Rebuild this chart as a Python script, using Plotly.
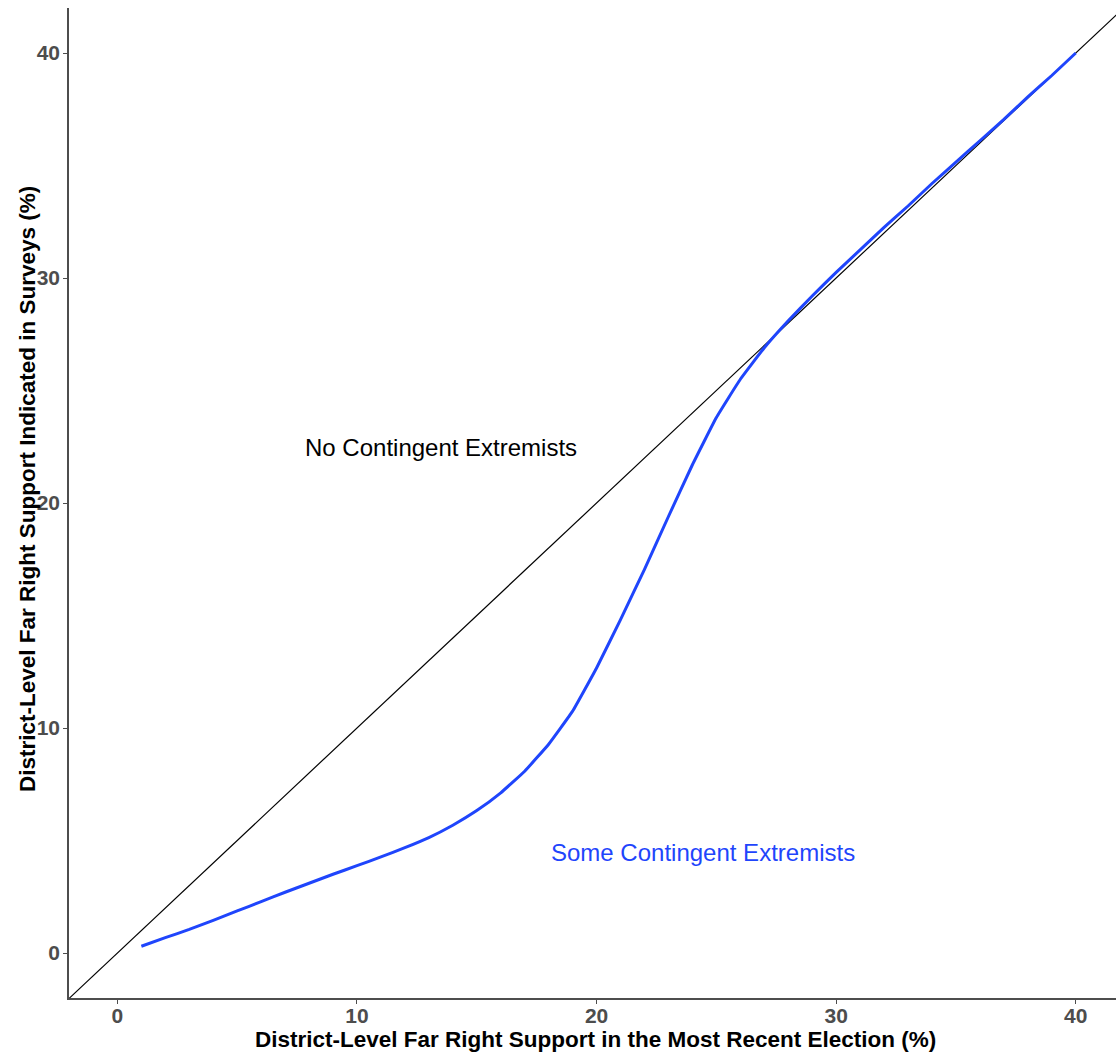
import plotly.graph_objects as go

# Estimated survey-indicated support across district-level election results
election_support = list(range(1, 41))
survey_support = [
    0.30, 0.68, 1.05, 1.45, 1.87, 2.28, 2.70, 3.10, 3.50, 3.88,
    4.27, 4.68, 5.13, 5.68, 6.33, 7.12, 8.08, 9.28, 10.75, 12.67,
    14.82, 17.05, 19.40, 21.70, 23.80, 25.50, 26.90, 28.10, 29.20, 30.25,
    31.25, 32.25, 33.20, 34.20, 35.15, 36.10, 37.05, 38.05, 39.00, 40.00,
]

x_ticks = [0, 10, 20, 30, 40]
y_ticks = [0, 10, 20, 30, 40]
x_range = [-2.02, 41.68]
y_range = [-2.0, 42.0]

x_title = "District-Level Far Right Support in the Most Recent Election (%)"
y_title = "District-Level Far Right Support Indicated in Surveys (%)"
label_none = "No Contingent Extremists"
label_some = "Some Contingent Extremists"

BLUE = "#1f45fc"
AXIS_GREY = "#4d4d4d"
FONT = "Liberation Sans, Arial, Helvetica, sans-serif"

fig = go.Figure()

# 45-degree reference line spanning the panel
diag = [min(x_range[0], y_range[0]), max(x_range[1], y_range[1])]
fig.add_trace(go.Scatter(
    x=diag, y=diag, mode="lines",
    line=dict(color="black", width=1.2),
    hoverinfo="skip", showlegend=False,
))

fig.add_trace(go.Scatter(
    x=election_support, y=survey_support, mode="lines",
    line=dict(color=BLUE, width=3, shape="spline", smoothing=0.3),
    showlegend=False,
))

fig.add_annotation(x=13.5, y=22.45, text=label_none, showarrow=False,
                   font=dict(family=FONT, size=24, color="black"))
fig.add_annotation(x=24.45, y=4.45, text=label_some, showarrow=False,
                   font=dict(family=FONT, size=24, color=BLUE))

# Axis titles placed relative to the plotting area
title_font = dict(family=FONT, size=22.5, color="black", weight="bold")
fig.add_annotation(text=x_title, xref="paper", yref="paper", x=0.503, y=0,
                   xanchor="center", yanchor="middle", yshift=-41,
                   showarrow=False, font=title_font)
fig.add_annotation(text=y_title, xref="paper", yref="paper", x=0, y=0.5,
                   xanchor="center", yanchor="middle", xshift=-42, yshift=14,
                   textangle=-90, showarrow=False, font=title_font)

axis_common = dict(
    showgrid=False, zeroline=False,
    showline=True, linecolor=AXIS_GREY, linewidth=1.6,
    ticks="outside", ticklen=4, tickwidth=1.3, tickcolor=AXIS_GREY,
    tickfont=dict(family=FONT, size=21, color=AXIS_GREY, weight="bold"),
)

fig.update_xaxes(
    range=x_range, tickvals=x_ticks, ticktext=[str(v) for v in x_ticks],
    ticklabelstandoff=-6,
    **axis_common,
)
fig.update_yaxes(
    range=y_range, tickvals=y_ticks, ticktext=[str(v) for v in y_ticks],
    ticklabelstandoff=-1,
    **axis_common,
)

fig.update_layout(
    width=1116, height=1053,
    margin=dict(l=69, r=0, t=8, b=55),
    plot_bgcolor="white", paper_bgcolor="white",
    font=dict(family=FONT),
)

fig.write_html("out.html")
